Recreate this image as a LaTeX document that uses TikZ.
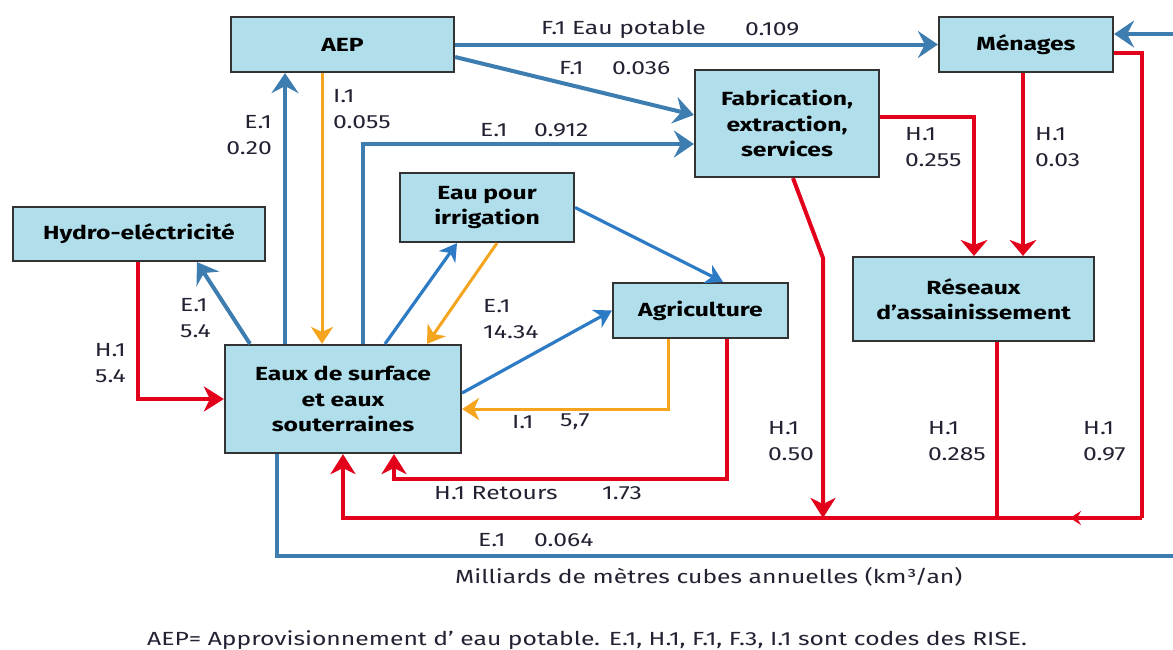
\documentclass[tikz,border=0pt]{standalone}
\usepackage{fontspec}
\setmainfont{Fira Sans}[FakeStretch=1.3]
\usetikzlibrary{arrows.meta}
\definecolor{bxfill}{HTML}{B0DEEA}
\definecolor{bxdraw}{HTML}{333333}
\definecolor{sblue}{HTML}{3E7DAF}
\definecolor{lblue}{HTML}{2C7BC4}
\definecolor{oran}{HTML}{F5A41E}
\definecolor{rred}{HTML}{E3001B}
\definecolor{txt}{HTML}{222233}
\begin{document}
\begin{tikzpicture}[x=1pt,y=-1pt,
 box/.style={draw=bxdraw, line width=2.2pt, fill=bxfill, inner sep=0pt, align=center,
   font=\fontsize{19}{25.5}\selectfont\bfseries, text=black},
 lbl/.style={inner sep=0pt, font=\fontsize{19}{26}\selectfont, text=txt, align=left, anchor=west},
 lblr/.style={inner sep=0pt, font=\fontsize{19}{26}\selectfont, text=txt, align=right, anchor=east},
 bl/.style={draw=sblue, line width=4pt},
 blA/.style={bl, -{Stealth[length=20pt,width=27pt,inset=7pt]}},
 lbA/.style={draw=lblue, line width=3.2pt, -{Stealth[length=17pt,width=20pt,inset=5pt]}},
 orA/.style={draw=oran, line width=3pt, -{Stealth[length=17pt,width=22pt,inset=5pt]}},
 rd/.style={draw=rred, line width=4pt},
 rdA/.style={rd, -{Stealth[length=20pt,width=25pt,inset=6pt]}},
 rdB/.style={rd, -{Stealth[length=16pt,width=27pt,inset=5pt]}},
 rdS/.style={draw=rred, line width=2pt, -{Stealth[length=11pt,width=14pt,inset=4pt]}}
]
\useasboundingbox (0,0) rectangle (1173,649);

% boxes
\node[box, minimum width=223pt, minimum height=55pt] (aep) at (342.5,44.5) {AEP};
\node[box, minimum width=174pt, minimum height=55pt] (men) at (1026,44.5) {Ménages};
\node[box, minimum width=184pt, minimum height=107pt] (fab) at (787,123.5) {Fabrication,\\extraction,\\services};
\node[box, minimum width=252pt, minimum height=54pt] (hydro) at (139,234) {Hydro-eléctricité};
\node[box, minimum width=174pt, minimum height=69pt] (irr) at (487,207.5) {Eau pour\\irrigation};
\node[box, minimum width=175pt, minimum height=55pt] (agr) at (700.5,310.5) {Agriculture};
\node[box, minimum width=241pt, minimum height=84pt] (res) at (973.5,299) {Réseaux\\d'assainissement};
\node[box, minimum width=236pt, minimum height=108pt] (eaux) at (343,399) {Eaux de surface\\et eaux\\souterraines};

\coordinate (j1) at (823,518);
\coordinate (jr) at (1142,518);
\coordinate (rin) at (1173,34);
\coordinate (rout) at (1173,556);

% blue connectors
\draw[blA] (aep.east) -- (men.west);
\draw[blA] ([yshift=-12.5]aep.east) -- ([yshift=8.5]fab.west);
\draw[blA] ([xshift=20]eaux.north) |- ([yshift=-20.5]fab.west);
\draw[blA] ([xshift=-58]eaux.north) -- ([xshift=-57.5]aep.south);
\draw[blA] ([xshift=-93]eaux.north) -- ([xshift=58]hydro.south);
\draw[blA] (rin) -- ([yshift=10.5]men.east);
\draw[bl] ([xshift=-66]eaux.south) |- (rout);
\draw[lbA] ([xshift=42]eaux.north) -- ([xshift=-30]irr.south);
\draw[lbA] (irr.east) -- ([xshift=22.5]agr.north);
\draw[lbA] ([yshift=6]eaux.east) -- (agr.west);

% orange connectors
\draw[orA] ([xshift=-20.5]aep.south) -- ([xshift=-21]eaux.north);
\draw[orA] ([xshift=10]irr.south) -- ([xshift=84]eaux.north);
\draw[orA] ([xshift=-32.5]agr.south) |- ([yshift=-10]eaux.east);

% red connectors
\draw[rdA] ([xshift=-1]hydro.south) |- (eaux.west);
\draw[rdA] ([xshift=26.5]agr.south) -- ++(0,140) -| ([xshift=51]eaux.south);
\draw[rdB] ([yshift=6.5]fab.east) -| ([xshift=0.5]res.north);
\draw[rdB] ([xshift=-3]men.south) -- ([xshift=49.5]res.north);
\draw[rd] ([xshift=23.5]res.south) -- ++(0,177);
\draw[rd] ([yshift=-8.5]men.east) -| (jr);
\draw[rdA] (jr) -| (eaux.south);
\draw[rdS] (jr) -- (1070,518);
\draw[rdA] ([xshift=6]fab.south) -- (823,258) -- (j1);

% labels
\node[lbl] (l1) at (541,29) {F.1 Eau potable};
\node[lbl] (l1b) at (745,29) {0.109};
\node[lbl] (l2) at (559,68) {F.1};
\node[lbl] (l2b) at (612,68) {0.036};
\node[lbl] (l3) at (480,130) {E.1};
\node[lbl] (l3b) at (534,130) {0.912};
\node[lblr] (l4) at (272,135) {E.1\\0.20};
\node[lbl] (l5) at (333,109.5) {I.1\\0.055};
\node[lbl] (l6) at (180,318.5) {E.1\\5.4};
\node[lblr] (l7) at (126,363) {H.1\\5.4};
\node[lbl] (l8) at (483,319.5) {E.1\\14.34};
\node[lbl] (l9) at (512,422) {I.1};
\node[lbl] (l9b) at (560,422) {5,7};
\node[lbl] (l10) at (434,493) {H.1 Retours};
\node[lbl] (l10b) at (602,493) {1.73};
\node[lbl] (l11) at (905,147.5) {H.1\\0.255};
\node[lbl] (l12) at (1035,147.5) {H.1\\0.03};
\node[lbl] (l13) at (768,441.5) {H.1\\0.50};
\node[lbl] (l14) at (928,441.5) {H.1\\0.285};
\node[lbl] (l15) at (1083,441.5) {H.1\\0.97};
\node[lbl] (l16) at (478,540) {E.1};
\node[lbl] (l16b) at (534,540) {0.064};
\node[lbl] (unit) at (455,577) {Milliards de mètres cubes annuelles (km³/an)};
\node[lbl] (foot) at (147,640) {AEP= Approvisionnement d' eau potable. E.1, H.1, F.1, F.3, I.1 sont codes des RISE.};
\end{tikzpicture}
\end{document}
